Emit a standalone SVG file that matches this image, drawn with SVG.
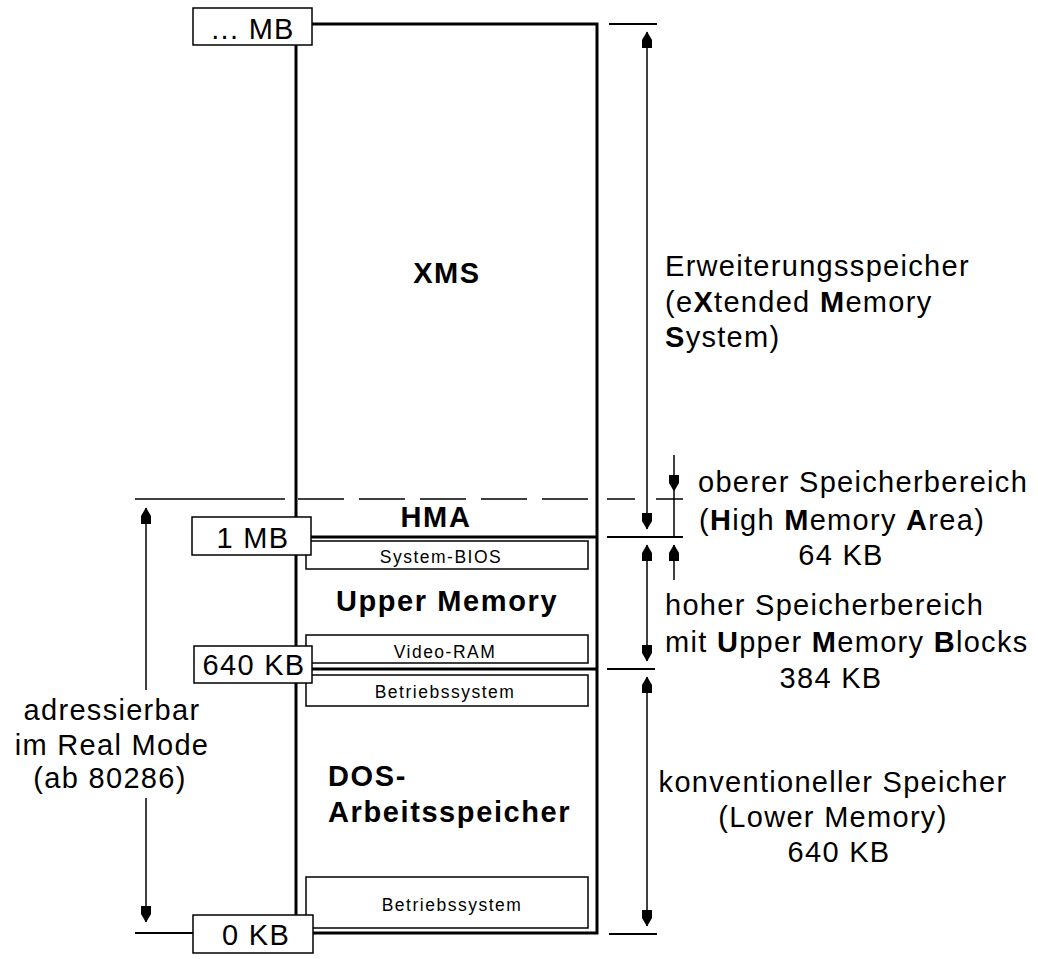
<svg xmlns="http://www.w3.org/2000/svg" width="1038" height="959" viewBox="0 0 1038 959">
<style>
  .thick { fill: none; stroke: #000; stroke-width: 3; }
  .thin { fill: none; stroke: #000; stroke-width: 1.5; }
  .ibox { fill: #fff; stroke: #000; stroke-width: 1.5; }
  .abox { fill: #fff; stroke: #000; stroke-width: 1.5; }
  .big { font-family: "Liberation Sans", Arial, sans-serif; font-size: 29px; font-weight: bold; letter-spacing: 1.6px; fill: #000; text-anchor: middle; }
  .lbl { font-family: "Liberation Sans", Arial, sans-serif; font-size: 29px; letter-spacing: 1.3px; fill: #000; }
  .mid { text-anchor: middle; }
  .small { font-family: "Liberation Sans", Arial, sans-serif; font-size: 17.5px; letter-spacing: 1.5px; fill: #000; text-anchor: middle; }
  .b { font-weight: bold; }
  .dim { fill: none; stroke: #000; stroke-width: 1.5; }
  .tick { fill: none; stroke: #000; stroke-width: 2; }
</style>
<defs>
  <marker id="ah" viewBox="-17 -6 18 12" refX="0" refY="0" markerWidth="18" markerHeight="12" markerUnits="userSpaceOnUse" orient="auto-start-reverse">
    <path d="M0.5,0 L-8,-5 L-16,-5 L-16,5 L-8,5 Z" fill="#000"/>
  </marker>
</defs>

<!-- memory column -->
<g id="memory-column">
  <rect class="thick" x="296" y="24" width="301" height="909"/>
  <line class="thick" x1="296" y1="537" x2="597" y2="537"/>
  <line class="thick" x1="296" y1="669" x2="597" y2="669"/>
</g>

<g id="xms">
  <text class="big" x="447" y="283">XMS</text>
</g>

<g id="hma">
  <text class="big" x="436" y="527">HMA</text>
</g>

<g id="upper-memory">
  <text class="big" x="447" y="611">Upper Memory</text>
</g>

<g id="system-bios">
  <rect class="ibox" x="306" y="541" width="282" height="28"/>
  <text class="small" x="441" y="563">System-BIOS</text>
</g>

<g id="video-ram">
  <rect class="ibox" x="306" y="635" width="282" height="28"/>
  <text class="small" x="445" y="658">Video-RAM</text>
</g>

<g id="dos-memory">
  <text class="big" x="328" y="786" style="text-anchor:start">DOS-</text>
  <text class="big" x="328" y="822" style="text-anchor:start">Arbeitsspeicher</text>
</g>

<g id="betriebssystem-oben">
  <rect class="ibox" x="306" y="675" width="282" height="31"/>
  <text class="small" x="445" y="698">Betriebssystem</text>
</g>

<g id="betriebssystem-unten">
  <rect class="ibox" x="306" y="877" width="282" height="51"/>
  <text class="small" x="452" y="911">Betriebssystem</text>
</g>

<!-- connectors: dimension lines, ticks, arrows -->
<g id="connectors">
  <!-- top tick -->
  <line class="tick" x1="609" y1="24" x2="657" y2="24"/>
  <!-- dashed 1MB+64KB line -->
  <line class="thin" x1="135" y1="499" x2="285" y2="499"/>
  <line class="thin" x1="298" y1="499" x2="589" y2="499" stroke-dasharray="46 15"/>
  <line class="thin" x1="607" y1="499" x2="635" y2="499"/>
  <line class="thin" x1="656" y1="499" x2="683" y2="499"/>
  <!-- 1 MB tick -->
  <line class="tick" x1="607" y1="537" x2="683" y2="537"/>
  <!-- 640 KB tick -->
  <line class="tick" x1="607" y1="669" x2="655" y2="669"/>
  <!-- 0 KB ticks -->
  <line class="tick" x1="135" y1="933" x2="193" y2="933"/>
  <line class="tick" x1="609" y1="934" x2="657" y2="934"/>

  <!-- XMS dimension -->
  <line class="dim" x1="647" y1="32" x2="647" y2="529" marker-start="url(#ah)" marker-end="url(#ah)"/>
  <!-- HMA dimension (arrows from outside) -->
  <line class="dim" x1="674" y1="455" x2="674" y2="491" marker-end="url(#ah)"/>
  <line class="dim" x1="674" y1="491" x2="674" y2="537"/>
  <line class="dim" x1="674" y1="580" x2="674" y2="545" marker-end="url(#ah)"/>
  <!-- Upper memory dimension -->
  <line class="dim" x1="647" y1="545" x2="647" y2="661" marker-start="url(#ah)" marker-end="url(#ah)"/>
  <!-- conventional memory dimension -->
  <line class="dim" x1="647" y1="677" x2="647" y2="926" marker-start="url(#ah)" marker-end="url(#ah)"/>
  <!-- real mode addressable dimension -->
  <line class="dim" x1="146" y1="690" x2="146" y2="508" marker-end="url(#ah)"/>
  <line class="dim" x1="146" y1="798" x2="146" y2="922" marker-end="url(#ah)"/>
</g>

<!-- address labels -->
<g id="addr-top">
  <rect class="abox" x="193" y="8" width="119" height="37"/>
  <text class="lbl mid" x="253" y="39">... MB</text>
</g>
<g id="addr-1mb">
  <rect class="abox" x="192" y="517" width="119" height="38"/>
  <text class="lbl mid" x="253" y="548">1 MB</text>
</g>
<g id="addr-640kb">
  <rect class="abox" x="194" y="646" width="118" height="37"/>
  <text class="lbl mid" x="254" y="675">640 KB</text>
</g>
<g id="addr-0kb">
  <rect class="abox" x="193" y="915" width="120" height="38"/>
  <text class="lbl mid" x="256" y="945">0 KB</text>
</g>

<!-- annotations -->
<g id="label-xms">
  <text class="lbl" x="665" y="276">Erweiterungsspeicher</text>
  <text class="lbl" x="665" y="312">(e<tspan class="b">X</tspan>tended <tspan class="b">M</tspan>emory</text>
  <text class="lbl" x="665" y="347"><tspan class="b">S</tspan>ystem)</text>
</g>
<g id="label-hma">
  <text class="lbl" x="698" y="492">oberer Speicherbereich</text>
  <text class="lbl" x="699" y="530">(<tspan class="b">H</tspan>igh <tspan class="b">M</tspan>emory <tspan class="b">A</tspan>rea)</text>
  <text class="lbl mid" x="841" y="565">64 KB</text>
</g>
<g id="label-umb">
  <text class="lbl" x="665" y="615">hoher Speicherbereich</text>
  <text class="lbl" x="665" y="652">mit <tspan class="b">U</tspan>pper <tspan class="b">M</tspan>emory <tspan class="b">B</tspan>locks</text>
  <text class="lbl mid" x="831" y="688">384 KB</text>
</g>
<g id="label-conventional">
  <text class="lbl mid" x="833" y="792">konventioneller Speicher</text>
  <text class="lbl mid" x="833" y="827">(Lower Memory)</text>
  <text class="lbl mid" x="839" y="862">640 KB</text>
</g>
<g id="label-realmode">
  <text class="lbl mid" x="112" y="720">adressierbar</text>
  <text class="lbl mid" x="112" y="755">im Real Mode</text>
  <text class="lbl mid" x="110" y="788">(ab 80286)</text>
</g>
</svg>
